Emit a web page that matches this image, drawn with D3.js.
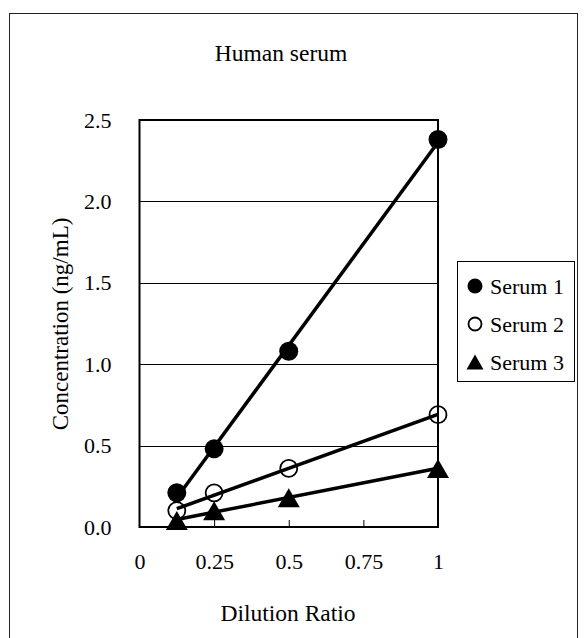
<!DOCTYPE html>
<html>
<head>
<meta charset="utf-8">
<script src="https://cdn.jsdelivr.net/npm/d3@7"></script>
<style>
  body { margin: 0; background: #fff; }
</style>
</head>
<body>
<div id="chart"></div>
<script>
// dilution ratios and measured concentrations (ng/mL)
var dilution = [0.125, 0.25, 0.5, 1];
var serum1 = [0.21, 0.48, 1.08, 2.38];
var serum2 = [0.10, 0.21, 0.36, 0.69];
var serum3 = [0.04, 0.10, 0.18, 0.36];
var seriesNames = ["Serum 1", "Serum 2", "Serum 3"];
var xTicks = [0, 0.25, 0.5, 0.75, 1];
var yTicks = [0, 0.5, 1.0, 1.5, 2.0, 2.5];

var FONT = "Liberation Serif";
var width = 587, height = 638;
var svg = d3.select("#chart").append("svg")
    .attr("width", width)
    .attr("height", height)
    .attr("font-family", FONT);

// outer frame
svg.append("rect")
    .attr("x", 9.5).attr("y", 13.5)
    .attr("width", 568).attr("height", 640)
    .attr("fill", "none").attr("stroke", "#222").attr("stroke-width", 1);

var x = d3.scaleLinear().domain([0, 1]).range([139.5, 438]);
var y = d3.scaleLinear().domain([0, 2.5]).range([527, 120]);

// gridlines
svg.append("g").selectAll("line")
    .data(yTicks.filter(d => d > 0 && d < 2.5))
    .enter().append("line")
    .attr("x1", x(0)).attr("x2", x(1))
    .attr("y1", d => Math.round(y(d)) + 0.5).attr("y2", d => Math.round(y(d)) + 0.5)
    .attr("stroke", "#000").attr("stroke-width", 1);

// plot frame
svg.append("rect")
    .attr("x", x(0)).attr("y", y(2.5))
    .attr("width", x(1) - x(0)).attr("height", y(0) - y(2.5))
    .attr("fill", "none").attr("stroke", "#000").attr("stroke-width", 2);

// x axis: inward ticks, labels below
var xAxis = d3.axisBottom(x).tickValues(xTicks).tickSize(-7).tickPadding(26)
    .tickFormat(d => String(d));
var gx = svg.append("g").attr("transform", `translate(0,${y(0)})`).call(xAxis)
    .attr("font-family", FONT).attr("font-size", 22);
gx.select(".domain").remove();
gx.selectAll(".tick line").attr("stroke", "#000").attr("stroke-width", 1)
    .filter(d => d === 0 || d === 1).remove();
gx.selectAll(".tick text").attr("fill", "#000");

// y axis labels only
var yAxis = d3.axisLeft(y).tickValues(yTicks).tickSize(0).tickPadding(28)
    .tickFormat(d3.format(".1f"));
var gy = svg.append("g").attr("transform", `translate(${x(0)},0)`).call(yAxis)
    .attr("font-family", FONT).attr("font-size", 22);
gy.select(".domain").remove();
gy.selectAll(".tick text").attr("fill", "#000");

// titles
svg.append("text").attr("x", 281).attr("y", 61)
    .attr("text-anchor", "middle").attr("font-size", 23.5).text("Human serum");
svg.append("text").attr("x", 288).attr("y", 621)
    .attr("text-anchor", "middle").attr("font-size", 23.5).text("Dilution Ratio");
svg.append("text")
    .attr("transform", "translate(68,324) rotate(-90)")
    .attr("text-anchor", "middle").attr("font-size", 23).text("Concentration (ng/mL)");

var series = [serum1, serum2, serum3].map((vals, i) => ({
    name: seriesNames[i],
    points: dilution.map((d, j) => ({x: d, y: vals[j]}))
}));

// least squares fit line for each series
function fit(points) {
    var mx = d3.mean(points, p => p.x), my = d3.mean(points, p => p.y);
    var sxy = d3.sum(points, p => (p.x - mx) * (p.y - my));
    var sxx = d3.sum(points, p => (p.x - mx) * (p.x - mx));
    var b = sxy / sxx, a = my - b * mx;
    var ext = d3.extent(points, p => p.x);
    return ext.map(v => ({x: v, y: a + b * v}));
}

function triangle(w, h) {
    return `M0,${-h / 2}L${w / 2},${h / 2}L${-w / 2},${h / 2}Z`;
}

function drawMarker(g, i, big) {
    if (i === 0) {
        g.append("circle").attr("r", big ? 9.5 : 7.5).attr("fill", "#000");
    } else if (i === 1) {
        g.append("circle").attr("r", big ? 8.5 : 6.5)
            .attr("fill", big ? "none" : "#fff").attr("stroke", "#000").attr("stroke-width", 1.8);
    } else {
        g.append("path").attr("d", big ? triangle(22, 19) : triangle(17, 15)).attr("fill", "#000");
    }
}

var line = d3.line().x(d => x(d.x)).y(d => y(d.y));

// markers
series.forEach((s, i) => {
    s.points.forEach(p => {
        var g = svg.append("g").attr("transform", `translate(${x(p.x)},${y(p.y)})`);
        drawMarker(g, i, true);
    });
});

// fitted lines
svg.append("g").selectAll("path")
    .data(series)
    .enter().append("path")
    .attr("d", d => line(fit(d.points)))
    .attr("fill", "none").attr("stroke", "#000").attr("stroke-width", 3.5);

// legend
var legend = svg.append("g");
legend.append("rect")
    .attr("x", 457.5).attr("y", 261.5).attr("width", 117).attr("height", 120)
    .attr("fill", "#fff").attr("stroke", "#000").attr("stroke-width", 1);
var legendY = [286, 324, 362];
series.forEach((s, i) => {
    var g = legend.append("g").attr("transform", `translate(475,${legendY[i]})`);
    drawMarker(g, i, false);
    legend.append("text").attr("x", 490).attr("y", legendY[i] + 7.5)
        .attr("font-size", 22).text(s.name);
});

svg.selectAll("text").style("font-family", "'Liberation Serif', 'Times New Roman', serif");
</script>
</body>
</html>
